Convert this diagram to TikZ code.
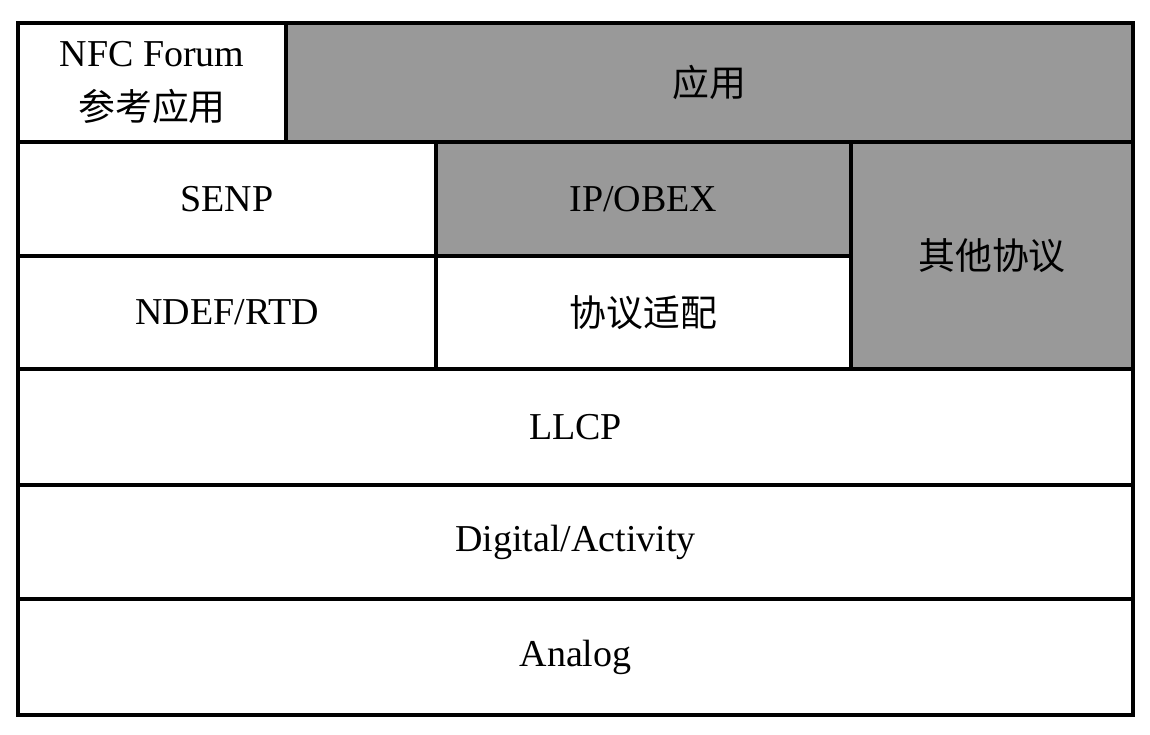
\documentclass[tikz,border=0pt]{standalone}
\usepackage{fontspec}
\setmainfont{Liberation Serif}
\newfontfamily\cjk{Noto Sans CJK SC}[Scale=0.97]
\begin{document}
\begin{tikzpicture}[x=1pt,y=-1pt,
  cell/.style={draw=black,line width=4pt,inner sep=0pt,outer sep=0pt,
    font=\fontsize{38}{52}\selectfont,align=center},
  light/.style={cell,fill=white},
  dark/.style={cell,fill=black!40}]
\useasboundingbox[fill=white] (0,0) rectangle (1150,734);
% top row: reference applications and applications
\node[light,minimum width=268pt,minimum height=119pt] (nfc) at (152,82.5)
  {NFC Forum\\[2pt]{\cjk 参考应用}};
\node[dark,minimum width=847pt,minimum height=119pt] (app) at (709.5,82.5) {\cjk 应用};
% protocol rows
\node[light,minimum width=418pt,minimum height=114pt] (senp) at (227,199) {SENP};
\node[dark,minimum width=415pt,minimum height=114pt] (ipobex) at (643.5,199) {IP/OBEX};
\node[dark,minimum width=282pt,minimum height=227pt] (other) at (992,255.5) {\cjk 其他协议};
\node[light,minimum width=418pt,minimum height=113pt] (ndef) at (227,312.5) {NDEF/RTD};
\node[light,minimum width=415pt,minimum height=113pt] (adapt) at (643.5,312.5) {\cjk 协议适配};
% full-width layers
\node[light,minimum width=1115pt,minimum height=116pt] (llcp) at (575.5,427) {LLCP};
\node[light,minimum width=1115pt,minimum height=114pt] (digital) at (575.5,542) {Digital/Activity};
\node[light,minimum width=1115pt,minimum height=116pt] (analog) at (575.5,657) {Analog};
\end{tikzpicture}
\end{document}
